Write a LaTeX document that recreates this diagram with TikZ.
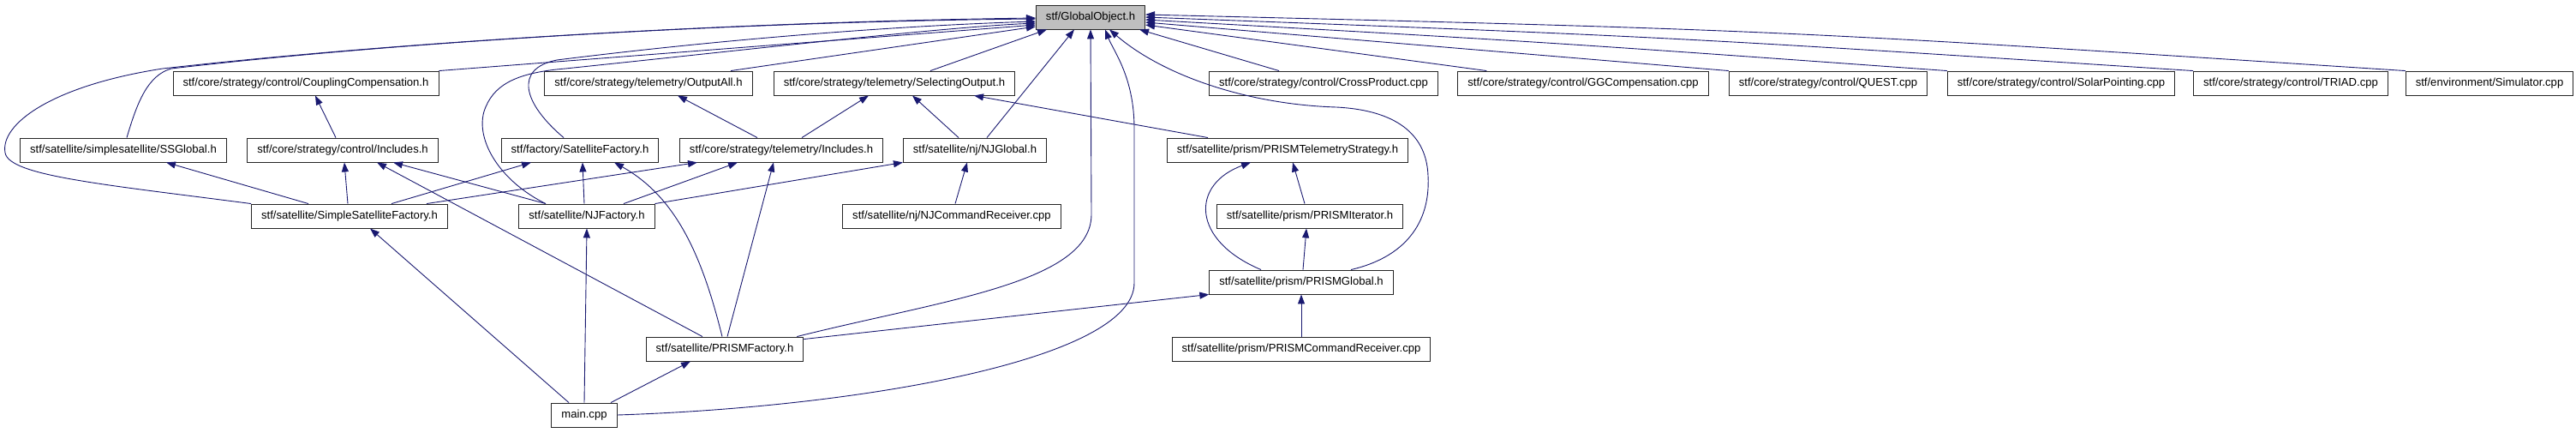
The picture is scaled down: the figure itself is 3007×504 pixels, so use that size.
\documentclass[tikz,border=0pt]{standalone}
\usepackage{fontspec}
\setmainfont{Liberation Sans}
\usetikzlibrary{arrows.meta}
\definecolor{edgeblue}{HTML}{191970}
\definecolor{rootgray}{HTML}{BFBFBF}

\begin{document}
\begin{tikzpicture}[x=1pt,y=-1pt,
    file/.style={rectangle,draw=black!85,line width=0.9pt,fill=white,minimum height=28pt,inner xsep=11.5pt,inner ysep=0pt,font=\fontsize{13.1}{15}\selectfont},
    dep/.style={draw=edgeblue,line width=0.9pt,-{Triangle[length=11pt,width=8pt]}}]

\useasboundingbox (0,0) rectangle (3007,504);

\node[file,fill=rootgray] (go) at (1273,20) {stf/GlobalObject.h};

\node[file] (cc) at (357,97) {stf/core/strategy/control/CouplingCompensation.h};
\node[file] (oa) at (757,97) {stf/core/strategy/telemetry/OutputAll.h};
\node[file] (so) at (1044,97) {stf/core/strategy/telemetry/SelectingOutput.h};
\node[file] (cp) at (1545,97) {stf/core/strategy/control/CrossProduct.cpp};
\node[file] (gg) at (1848,97) {stf/core/strategy/control/GGCompensation.cpp};
\node[file] (qu) at (2134,97) {stf/core/strategy/control/QUEST.cpp};
\node[file] (sp) at (2406,97) {stf/core/strategy/control/SolarPointing.cpp};
\node[file] (tr) at (2674,97) {stf/core/strategy/control/TRIAD.cpp};
\node[file] (sim) at (2906,97) {stf/environment/Simulator.cpp};

\node[file] (ss) at (144,175) {stf/satellite/simplesatellite/SSGlobal.h};
\node[file] (ci) at (400,175) {stf/core/strategy/control/Includes.h};
\node[file] (sf) at (677,175) {stf/factory/SatelliteFactory.h};
\node[file] (ti) at (912,175) {stf/core/strategy/telemetry/Includes.h};
\node[file] (njg) at (1138,175) {stf/satellite/nj/NJGlobal.h};
\node[file] (pts) at (1503,175) {stf/satellite/prism/PRISMTelemetryStrategy.h};

\node[file] (ssf) at (408,252) {stf/satellite/SimpleSatelliteFactory.h};
\node[file] (njf) at (685,252) {stf/satellite/NJFactory.h};
\node[file] (njc) at (1111,252) {stf/satellite/nj/NJCommandReceiver.cpp};
\node[file] (pit) at (1529,252) {stf/satellite/prism/PRISMIterator.h};

\node[file] (pg) at (1519,329) {stf/satellite/prism/PRISMGlobal.h};
\node[file] (pf) at (846,407) {stf/satellite/PRISMFactory.h};
\node[file] (pcr) at (1519,407) {stf/satellite/prism/PRISMCommandReceiver.cpp};
\node[file] (main) at (682,484) {main.cpp};

\draw[dep] (ssf.north west) .. controls (120,215) and (10,205) .. (6,178)
    .. controls (0,145) and (60,100) .. (190,80)
    .. controls (500,45) and (900,25) .. ([yshift=-1pt]go.west);
\draw[dep] ([xshift=4pt]ss.north) .. controls (160,120) and (172,88) .. (200,80)
    .. controls (500,45) and (900,25) .. ([yshift=-2pt]go.west);
\draw[dep] ([xshift=-19pt]sf.north) .. controls (610,120) and (600,80) .. (650,70)
    .. controls (850,45) and (1050,30) .. ([yshift=-5pt]go.west);
\draw[dep] ([xshift=-48pt]njf.north) .. controls (585,212) and (555,165) .. (565,130)
    .. controls (575,100) and (600,85) .. (660,80)
    .. controls (900,55) and (1100,32) .. ([yshift=-7pt]go.west);
\draw[dep] (cc.north east) -- ([yshift=-9pt]go.west);
\draw[dep] ([xshift=96pt]oa.north) -- ([yshift=-11pt]go.west);
\draw[dep] ([xshift=42pt]so.north) -- ([xshift=13pt]go.south west);
\draw[dep] ([xshift=14pt]njg.north) -- ([xshift=45pt]go.south west);
\draw[dep] ([xshift=-8pt]pf.north east) .. controls (1100,350) and (1274,330) .. (1274,250)
    -- (go.south);
\draw[dep] (main.east) .. controls (1000,475) and (1324,420) .. (1324,330)
    -- (1324,150) .. controls (1324,90) and (1300,60) .. ([xshift=17pt]go.south);
\draw[dep] ([xshift=58pt]pg.north) .. controls (1640,300) and (1670,260) .. (1667,205)
    .. controls (1665,150) and (1620,128) .. (1560,125)
    .. controls (1460,122) and (1360,90) .. ([xshift=22pt]go.south);
\draw[dep] ([xshift=-52pt]cp.north) -- ([xshift=-7pt]go.south east);
\draw[dep] ([xshift=34pt]gg.north west) -- ([yshift=-9pt]go.east);
\draw[dep] (qu.north west) -- ([yshift=-6pt]go.east);
\draw[dep] (sp.north west) .. controls (1804,49) .. ([yshift=-3pt]go.east);
\draw[dep] (tr.north west) .. controls (1949,43) .. (go.east);
\draw[dep] (sim.north west) .. controls (2074,35) .. ([yshift=3pt]go.east);

\draw[dep] ([xshift=-8pt]ci.north) -- ([xshift=11pt]cc.south);
\draw[dep] ([xshift=-28pt]ti.north) -- ([xshift=34pt]oa.south);
\draw[dep] ([xshift=24pt]ti.north) -- ([xshift=-30pt]so.south);
\draw[dep] ([xshift=-19pt]njg.north) -- ([xshift=21pt]so.south);
\draw[dep] ([xshift=-93pt]pts.north) -- ([xshift=93pt]so.south);

\draw[dep] ([xshift=-48pt]ssf.north) -- ([xshift=50pt]ss.south);
\draw[dep] ([xshift=-2pt]ssf.north) -- ([xshift=2pt]ci.south);
\draw[dep] ([xshift=49pt]ssf.north) -- ([xshift=-57pt]sf.south);
\draw[dep] ([xshift=90pt]ssf.north) -- ([xshift=-98pt]ti.south);
\draw[dep] ([xshift=-48pt]njf.north) -- ([xshift=59pt]ci.south);
\draw[dep] ([xshift=-3pt]njf.north) -- ([xshift=3pt]sf.south);
\draw[dep] ([xshift=43pt]njf.north) -- ([xshift=-51pt]ti.south);
\draw[dep] (njf.north east) -- (njg.south west);
\draw[dep] ([xshift=4pt]njc.north) -- ([xshift=-9pt]njg.south);
\draw[dep] ([xshift=-6pt]pit.north) -- ([xshift=6pt]pts.south);

\draw[dep] ([xshift=-26pt]pf.north) -- ([xshift=40pt]ci.south);
\draw[dep] ([xshift=-3pt]pf.north) .. controls (820,300) and (790,230) .. ([xshift=40pt]sf.south);
\draw[dep] ([xshift=3pt]pf.north) -- ([xshift=-9pt]ti.south);
\draw[dep] ([yshift=-3pt]pf.north east) -- (pg.south west);
\draw[dep] ([xshift=-47pt]pg.north) .. controls (1390,280) and (1390,215) .. ([xshift=-43pt]pts.south);
\draw[dep] ([xshift=2pt]pg.north) -- ([xshift=-4pt]pit.south);
\draw[dep] (pcr.north) -- (pg.south);

\draw[dep] (main.north) -- (njf.south);
\draw[dep] ([xshift=31pt]main.north) -- ([xshift=-40pt]pf.south);
\draw[dep] ([xshift=-18pt]main.north) -- ([xshift=24pt]ssf.south);
\end{tikzpicture}
\end{document}
